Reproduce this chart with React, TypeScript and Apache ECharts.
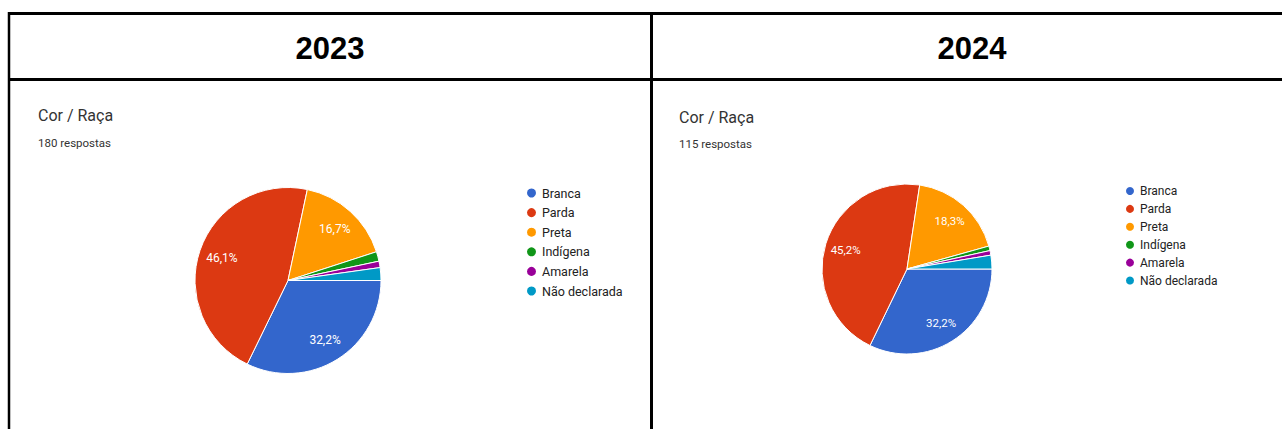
import React, { useEffect, useRef } from "react";
import * as echarts from "echarts";

const categories = ["Branca", "Parda", "Preta", "Indígena", "Amarela", "Não declarada"];
const values2023 = [58, 83, 30, 3, 2, 4];
const values2024 = [37, 52, 21, 1, 1, 3];
const years = ["2023", "2024"];
const responses = ["180 respostas", "115 respostas"];
const palette = ["#3366cc", "#dc3912", "#ff9900", "#109618", "#990099", "#0099c6"];

const FONT = "Roboto, 'Noto Sans', Arial, sans-serif";

function pct(values: number[], v: number) {
  const total = values.reduce((a, b) => a + b, 0);
  return ((v / total) * 100).toFixed(1).replace(".", ",") + "%";
}

function pieSeries(values: number[], center: [number, number], r: number, fontSize: number) {
  const data = categories.map((name, i) => ({ name, value: values[i], itemStyle: { color: palette[i] } }));
  const main = {
    type: "pie",
    center,
    radius: [0, r],
    startAngle: 0,
    clockwise: true,
    avoidLabelOverlap: false,
    label: { show: false },
    labelLine: { show: false },
    emphasis: { disabled: true },
    itemStyle: { borderColor: "#ffffff", borderWidth: 1 },
    data,
  };
  const overlay = {
    type: "pie",
    center,
    radius: [r * 0.44, r],
    startAngle: 0,
    clockwise: true,
    silent: true,
    avoidLabelOverlap: false,
    emphasis: { disabled: true },
    itemStyle: { color: "rgba(0,0,0,0)", borderWidth: 0 },
    label: {
      show: true,
      position: "inside",
      color: "#ffffff",
      fontSize,
      fontFamily: FONT,
      formatter: (p: any) => {
        const total = values.reduce((a, b) => a + b, 0);
        return p.value / total >= 0.05 ? pct(values, p.value) : "";
      },
    },
    labelLine: { show: false },
    data: categories.map((name, i) => ({ name, value: values[i] })),
  };
  return [main, overlay];
}

export default function App() {
  const ref = useRef<HTMLDivElement>(null);
  useEffect(() => {
    if (!ref.current) return;
    const chart = echarts.init(ref.current, undefined, { renderer: "svg" });
    const lineStyle = { stroke: "#000000", lineWidth: 3 };
    chart.setOption({
      animation: false,
      backgroundColor: "#ffffff",
      legend: [
        {
          data: categories,
          orient: "vertical",
          left: 520,
          top: 181,
          icon: "circle",
          itemWidth: 11,
          itemHeight: 11,
          itemGap: 5.6,
          selectedMode: false,
          textStyle: { fontFamily: FONT, fontSize: 12.5, color: "#222222", lineHeight: 14 },
        },
        {
          data: categories,
          orient: "vertical",
          left: 1119,
          top: 179,
          icon: "circle",
          itemWidth: 10,
          itemHeight: 10,
          itemGap: 3.9,
          selectedMode: false,
          textStyle: { fontFamily: FONT, fontSize: 12, color: "#222222", lineHeight: 14 },
        },
      ],
      graphic: [
        { type: "line", shape: { x1: 8, y1: 13.5, x2: 1282, y2: 13.5 }, style: lineStyle },
        { type: "line", shape: { x1: 8, y1: 79.5, x2: 1282, y2: 79.5 }, style: lineStyle },
        { type: "line", shape: { x1: 9, y1: 12, x2: 9, y2: 429 }, style: { stroke: "#000", lineWidth: 2.5 } },
        { type: "line", shape: { x1: 651.5, y1: 12, x2: 651.5, y2: 429 }, style: lineStyle },
        {
          type: "text",
          x: 330,
          y: 48,
          style: { text: years[0], font: "bold 31px 'Liberation Sans', Arial, sans-serif", fill: "#000", align: "center", verticalAlign: "middle" },
        },
        {
          type: "text",
          x: 972,
          y: 48,
          style: { text: years[1], font: "bold 31px 'Liberation Sans', Arial, sans-serif", fill: "#000", align: "center", verticalAlign: "middle" },
        },
        {
          type: "text",
          x: 38,
          y: 115,
          style: { text: "Cor / Raça", font: `16px ${FONT}`, fill: "#333333", verticalAlign: "middle" },
        },
        {
          type: "text",
          x: 38,
          y: 143,
          style: { text: responses[0], font: `11.5px ${FONT}`, fill: "#333333", verticalAlign: "middle" },
        },
        {
          type: "text",
          x: 679,
          y: 117,
          style: { text: "Cor / Raça", font: `16px ${FONT}`, fill: "#333333", verticalAlign: "middle" },
        },
        {
          type: "text",
          x: 679,
          y: 144,
          style: { text: responses[1], font: `11.5px ${FONT}`, fill: "#333333", verticalAlign: "middle" },
        },
      ],
      series: [
        ...pieSeries(values2023, [288, 280.5], 93, 12),
        ...pieSeries(values2024, [907, 269], 85, 11.5),
      ],
    });
    return () => chart.dispose();
  }, []);
  return <div ref={ref} style={{ position: "absolute", left: 0, top: 0, width: 1282, height: 429 }} />;
}
